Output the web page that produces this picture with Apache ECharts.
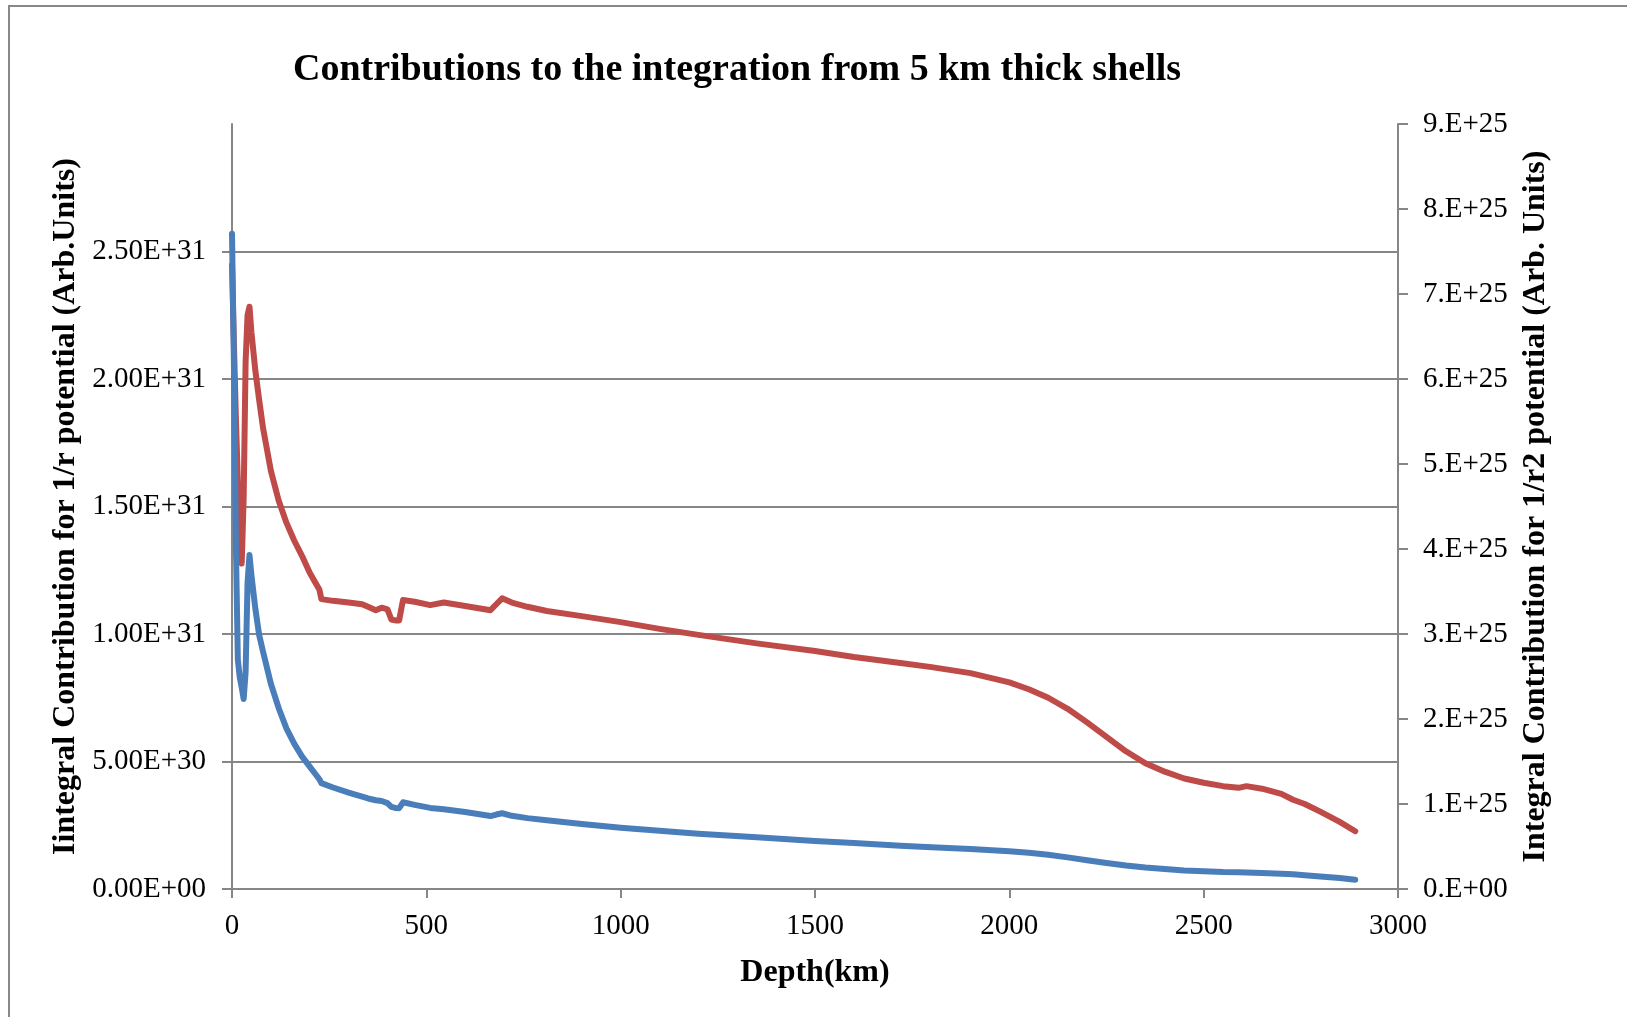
<!DOCTYPE html>
<html lang="en">
<head>
    <meta charset="UTF-8">
    <title>Contributions to the integration from 5 km thick shells</title>
    <script src="https://cdn.jsdelivr.net/npm/echarts@6/dist/echarts.min.js"></script>
    <style>
        html, body { margin: 0; padding: 0; background: #fff; }
    </style>
</head>
<body>
    <div id="main" style="width: 1627px;height:1017px;"></div>
    <script type="text/javascript">
        // depth of each shell (km)
        var depth = [0, 5, 10, 15, 20, 25, 30, 35, 40, 45, 50, 60, 70, 80, 100, 120, 140, 160, 180, 200,
            215, 225, 230, 260, 300, 335, 350, 370, 385, 400, 410, 420, 430, 440, 445, 470, 510, 545, 600,
            665, 680, 695, 720, 760, 810, 900, 1000, 1100, 1200, 1350, 1500, 1600, 1720, 1800, 1900, 2000,
            2050, 2100, 2150, 2200, 2250, 2300, 2350, 2400, 2450, 2500, 2550, 2590, 2610, 2650, 2700,
            2730, 2760, 2800, 2850, 2890];

        // 1/r potential, in units of 1e30 (left axis)
        var inv1E30 = [25.7, 20.5, 13.5, 9.0, 8.3, 7.9, 7.45, 8.5, 12.0, 13.1, 12.3, 11.0, 9.95, 9.3, 8.05,
            7.1, 6.3, 5.7, 5.2, 4.8, 4.5, 4.3, 4.15, 3.98, 3.78, 3.62, 3.55, 3.48, 3.45, 3.37, 3.22, 3.18,
            3.17, 3.40, 3.40, 3.30, 3.18, 3.13, 3.02, 2.86, 2.92, 2.97, 2.87, 2.78, 2.70, 2.55, 2.40, 2.28,
            2.17, 2.03, 1.88, 1.80, 1.70, 1.64, 1.57, 1.48, 1.42, 1.34, 1.24, 1.13, 1.02, 0.92, 0.84, 0.78,
            0.73, 0.70, 0.67, 0.66, 0.65, 0.63, 0.60, 0.58, 0.54, 0.49, 0.43, 0.36];

        // 1/r2 potential, in units of 1e25 (right axis)
        var inv2E25 = [7.34, 6.4, 5.55, 4.8, 4.2, 3.83, 4.6, 6.2, 6.75, 6.85, 6.55, 6.1, 5.75, 5.42, 4.92,
            4.57, 4.31, 4.1, 3.92, 3.72, 3.6, 3.52, 3.41, 3.39, 3.37, 3.35, 3.32, 3.28, 3.31, 3.29, 3.17,
            3.16, 3.16, 3.40, 3.41, 3.38, 3.34, 3.37, 3.33, 3.28, 3.35, 3.42, 3.37, 3.32, 3.27, 3.21, 3.14,
            3.06, 2.99, 2.89, 2.80, 2.73, 2.66, 2.61, 2.54, 2.43, 2.35, 2.25, 2.12, 1.96, 1.79, 1.62, 1.48,
            1.38, 1.30, 1.25, 1.21, 1.19, 1.21, 1.18, 1.12, 1.05, 1.00, 0.91, 0.79, 0.68];

        var leftTicks = [0, 5e30, 1e31, 1.5e31, 2e31, 2.5e31];

        var serif = "'Liberation Serif', 'Times New Roman', serif";
        var axisGray = '#868686';

        // Excel style exponent: 2.50E+31, 0.E+00
        function sci(v, digits) {
            var parts = v.toExponential(digits).split('e');
            var exp = parseInt(parts[1], 10);
            var mant = parts[0];
            if (digits === 0) mant += '.';
            return mant + 'E' + (exp < 0 ? '-' : '+') + String(Math.abs(exp)).padStart(2, '0');
        }

        var blueData = depth.map(function (d, i) { return [d, inv1E30[i] * 1e30]; });
        var redData = depth.map(function (d, i) { return [d, inv2E25[i] * 1e25]; });

        var myChart = echarts.init(document.getElementById('main'));

        myChart.setOption({
            animation: false,
            backgroundColor: '#fff',
            textStyle: { fontFamily: serif },
            graphic: [{
                type: 'rect',
                shape: { x: 9, y: 6, width: 1700, height: 1100 },
                style: { fill: 'none', stroke: '#888', lineWidth: 2 },
                silent: true
            }],
            title: {
                text: 'Contributions to the integration from 5 km thick shells',
                left: 732,
                top: 46,
                textAlign: 'center',
                textStyle: { fontFamily: serif, fontWeight: 'bold', fontSize: 38, color: '#000' }
            },
            grid: { left: 232, right: 229, top: 124, bottom: 128 },
            xAxis: {
                type: 'value',
                min: 0, max: 3000, interval: 500,
                name: 'Depth(km)',
                nameLocation: 'middle',
                nameGap: 68,
                nameTextStyle: { fontFamily: serif, fontWeight: 'bold', fontSize: 32, color: '#000' },
                axisLine: { onZero: false, lineStyle: { color: axisGray, width: 2 } },
                axisTick: { inside: false, length: 9, lineStyle: { color: axisGray, width: 2 } },
                axisLabel: {
                    margin: 23, fontFamily: serif, fontSize: 29, color: '#000',
                    formatter: function (v) { return String(v); }
                },
                splitLine: { show: false }
            },
            yAxis: [{
                type: 'value',
                position: 'left',
                min: 0, max: 3e31, interval: 5e30,
                name: 'Iintegral Contribution for 1/r potential (Arb.Units)',
                nameLocation: 'middle',
                nameRotate: 90,
                nameGap: 149,
                nameTextStyle: { fontFamily: serif, fontWeight: 'bold', fontSize: 32, color: '#000' },
                axisLine: { show: true, lineStyle: { color: axisGray, width: 2 } },
                axisTick: { show: true, length: 10, customValues: leftTicks, lineStyle: { color: axisGray, width: 2 } },
                axisLabel: {
                    margin: 26, fontFamily: serif, fontSize: 29, color: '#000',
                    customValues: leftTicks,
                    formatter: function (v) { return sci(v, 2); }
                },
                splitLine: {
                    show: true,
                    lineStyle: { color: [axisGray, axisGray, axisGray, axisGray, axisGray, axisGray, 'rgba(0,0,0,0)'], width: 2 }
                }
            }, {
                type: 'value',
                position: 'right',
                min: 0, max: 9e25, interval: 1e25,
                name: 'Integral Contribution for 1/r2 potential (Arb. Units)',
                nameLocation: 'middle',
                nameRotate: 90,
                nameGap: 122,
                nameTextStyle: { fontFamily: serif, fontWeight: 'bold', fontSize: 32, color: '#000' },
                axisLine: { show: true, lineStyle: { color: axisGray, width: 2 } },
                axisTick: { show: true, length: 10, lineStyle: { color: axisGray, width: 2 } },
                axisLabel: {
                    margin: 25, fontFamily: serif, fontSize: 29, color: '#000',
                    formatter: function (v) { return sci(v, 0); }
                },
                splitLine: { show: false }
            }],
            series: [{
                name: '1/r2',
                type: 'line',
                yAxisIndex: 1,
                data: redData,
                showSymbol: false,
                lineStyle: { color: '#BE4B48', width: 6, cap: 'round', join: 'round' },
                itemStyle: { color: '#BE4B48' }
            }, {
                name: '1/r',
                type: 'line',
                yAxisIndex: 0,
                data: blueData,
                showSymbol: false,
                lineStyle: { color: '#4A7EBB', width: 6, cap: 'round', join: 'round' },
                itemStyle: { color: '#4A7EBB' }
            }]
        });
    </script>
</body>
</html>
